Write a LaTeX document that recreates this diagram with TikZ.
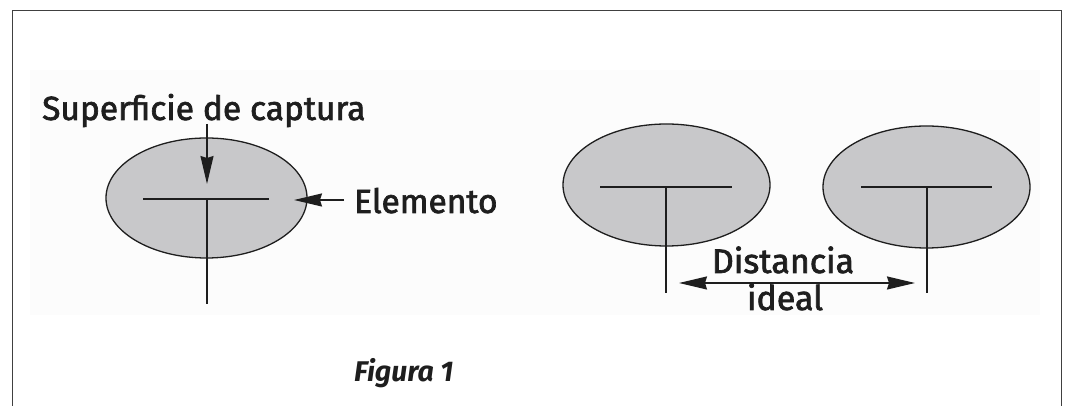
\documentclass[tikz,border=0pt]{standalone}
\usepackage{fontspec}
\setmainfont{Fira Sans}
\newfontfamily\lblfont{Fira Sans}[FakeBold=2]
\usetikzlibrary{shapes.geometric,arrows.meta}
\definecolor{elfill}{RGB}{200,200,202}
\definecolor{ink}{RGB}{30,30,30}
\tikzset{
  elem/.style={ellipse, draw=ink, line width=1.3pt, fill=elfill, inner sep=0pt},
  tline/.style={draw=ink, line width=1.8pt},
  frameline/.style={draw=ink!85, line width=1.6pt},
  lbl/.style={inner sep=0pt, text=ink, font=\lblfont\fontsize{33.5pt}{36pt}\selectfont},
  dlbl/.style={inner sep=0pt, text=ink, font=\lblfont\fontsize{34pt}{37pt}\selectfont},
  ahead/.tip={Stealth[length=28pt,width=13pt,inset=2pt]},
  ptr/.style={draw=ink, line width=1.6pt, -ahead},
  dptr/.style={draw=ink, line width=1.6pt, ahead-ahead}
}
\begin{document}
\begin{tikzpicture}[x=1pt,y=1pt]
\useasboundingbox (0,0) rectangle (1066,406);
% faint panel
\fill[gray!2] (30,91) rectangle (1040,336);
% frame (open at bottom)
\draw[frameline] (12.5,0) -- (12.5,395.5) -- (1061.5,395.5) -- (1061.5,0);

% left element
\node[elem, minimum width=201pt, minimum height=120pt] (e1) at (206.5,208) {};
\draw[tline] (143,207) -- (269,207);
\draw[tline] (207,207) -- (207,102);
\node[lbl, anchor=base west] (sup) at (42,286) {Superficie de captura};
\node[lbl, anchor=base west] (elt) at (354,193) {Elemento};
\coordinate (supS) at (207,282);
\coordinate (supE) at (207,222);
\draw[ptr] (supS) -- (supE);
\coordinate (eltS) at (344,206);
\coordinate (eltE) at (294,206);
\draw[ptr] (eltS) -- (eltE);

% right elements
\node[elem, minimum width=207pt, minimum height=122pt] (e2) at (666.5,221) {};
\node[elem, minimum width=207pt, minimum height=122pt] (e3) at (926.5,219) {};
\draw[tline] (600,219) -- (732,219);
\draw[tline] (666,219) -- (666,113);
\draw[tline] (861,219) -- (992,219);
\draw[tline] (927,219) -- (927,113);
\coordinate (dL) at (679,123);
\coordinate (dR) at (915,123);
\draw[dptr] (dL) -- (dR);
\node[dlbl, anchor=base] (dist) at (783,133) {Distancia};
\node[dlbl, anchor=base] (ideal) at (785,96) {ideal};

% caption
\node[inner sep=0pt, anchor=base west, text=ink, font=\fontsize{28.5pt}{32pt}\selectfont\bfseries\itshape] (fig) at (354,24) {Figura 1};
\end{tikzpicture}
\end{document}
